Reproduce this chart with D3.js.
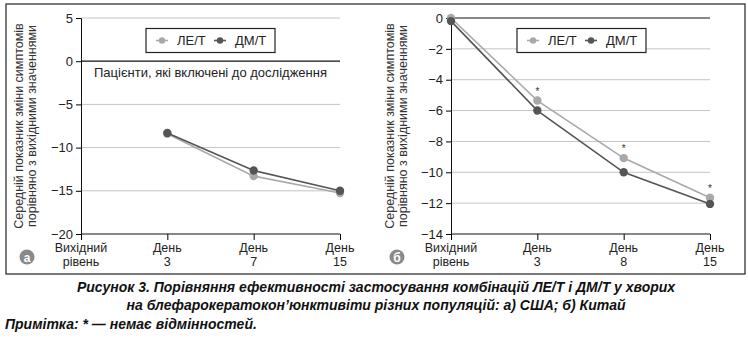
<!DOCTYPE html>
<html><head><meta charset="utf-8">
<script src="https://cdn.jsdelivr.net/npm/d3@7"></script>
<style>
body{margin:0;background:#fff;}
svg{display:block;font-family:"Liberation Sans",Arial,sans-serif;}
.cap{font-family:"Liberation Sans Narrow","Liberation Sans",Arial,sans-serif;font-weight:bold;font-style:italic;font-size:14px;}
</style></head>
<body>
<svg id="c" width="748" height="338"></svg>
<script>
const categoriesA = ["Вихідний|рівень","День|3","День|7","День|15"];
const categoriesB = ["Вихідний|рівень","День|3","День|8","День|15"];
const seriesNames = ["ЛЕ/Т","ДМ/Т"];
// Panel a (USA): no baseline value
const leA = [null,-8.4,-13.3,-15.25];
const dmA = [null,-8.3,-12.65,-15.0];
// Panel b (China)
const leB = [0,-5.35,-9.08,-11.65];
const dmB = [-0.2,-6.0,-10.0,-12.05];
const starsB = [false,true,true,true];
const ticksA = [5,0,-5,-10,-15,-20];
const ticksB = [0,-2,-4,-6,-8,-10,-12,-14];
const yLabel = ["Середній показник зміни симптомів","порівняно з вихідними значеннями"];

const colors = {"ЛЕ/Т":"#a9a9a9","ДМ/Т":"#555555"};
const svg = d3.select("#c");
svg.append("rect").attr("x",6).attr("y",4).attr("width",739).attr("height",270)
  .attr("fill","none").attr("stroke","#222").attr("stroke-width",1.2);

function panel(o){
  const g = svg.append("g");
  const x = d3.scalePoint().domain(o.cats).range([o.x0,o.x1]);
  const y = d3.scaleLinear().domain([o.ticks[o.ticks.length-1],o.ticks[0]]).range([234,18]);
  // grid
  g.selectAll(".grid").data(o.ticks.filter(t=>t!==0 && t!==o.ticks[o.ticks.length-1])).join("line")
    .attr("x1",o.x0).attr("x2",o.x1).attr("y1",d=>y(d)).attr("y2",d=>y(d))
    .attr("stroke","#c4c4c4").attr("stroke-width",1);
  g.append("line").attr("x1",o.x0).attr("x2",o.x1).attr("y1",y(0)).attr("y2",y(0))
    .attr("stroke","#111").attr("stroke-width",1.2);
  // y axis
  const ya = g.append("g").attr("transform",`translate(${o.x0},0)`)
    .call(d3.axisLeft(y).tickValues(o.ticks).tickSize(5).tickPadding(3).tickFormat(d=>d<0?"\u2212"+Math.abs(d):d));
  ya.select(".domain").attr("stroke","#111");
  ya.selectAll("text").attr("font-size",13).attr("fill","#222").attr("font-family","Liberation Sans, Arial, sans-serif");
  // x axis
  const xa = g.append("g").attr("transform","translate(0,234)")
    .call(d3.axisBottom(x).tickSize(6).tickFormat(""));
  xa.selectAll("text").remove();
  xa.select(".domain").attr("stroke","#111").attr("d",`M${o.x0},0H${o.x1}`);
  o.cats.forEach(c=>{
    c.split("|").forEach((p,i)=>g.append("text").attr("x",x(c)).attr("y",251.5+i*14)
      .attr("text-anchor","middle").attr("font-size",12.5).attr("fill","#222").text(p));
  });
  // y label
  yLabel.forEach((p,i)=>g.append("text").attr("transform",`translate(${o.lx+i*12.5},126) rotate(-90)`)
    .attr("text-anchor","middle").attr("font-size",12.5).attr("fill","#333").text(p));
  // badge
  g.append("circle").attr("cx",o.bx).attr("cy",257).attr("r",7.5).attr("fill","#8a8a8a");
  g.append("text").attr("x",o.bx).attr("y",261.5).attr("text-anchor","middle").attr("font-size",12)
    .attr("font-weight","bold").attr("fill","#fff").text(o.badge);
  // series
  const line=d3.line().defined(d=>d.v!==null).x(d=>x(d.c)).y(d=>y(d.v));
  [[seriesNames[0],o.le],[seriesNames[1],o.dm]].forEach(([n,vals])=>{
    const data=vals.map((v,i)=>({c:o.cats[i],v}));
    g.append("path").datum(data).attr("d",line).attr("fill","none").attr("stroke",colors[n]).attr("stroke-width",1.6);
    g.selectAll(null).data(data.filter(d=>d.v!==null)).join("circle")
      .attr("cx",d=>x(d.c)).attr("cy",d=>y(d.v)).attr("r",4.2).attr("fill",colors[n]);
  });
  if(o.stars){
    o.le.forEach((v,i)=>{ if(o.stars[i]) g.append("text").attr("x",x(o.cats[i])).attr("y",y(v)-6)
      .attr("text-anchor","middle").attr("font-size",10).attr("fill","#333").text("*"); });
  }
  // legend
  const lg=g.append("g");
  lg.append("rect").attr("x",o.lgx).attr("y",28.5).attr("width",129).attr("height",24)
    .attr("fill","#fff").attr("stroke","#222").attr("stroke-width",1.2);
  seriesNames.forEach((n,i)=>{
    const bx=o.lgx+10+i*58;
    lg.append("line").attr("x1",bx).attr("x2",bx+12).attr("y1",40.5).attr("y2",40.5).attr("stroke",colors[n]).attr("stroke-width",1.6);
    lg.append("circle").attr("cx",bx+6).attr("cy",40.5).attr("r",3.2).attr("fill",colors[n]);
    lg.append("text").attr("x",bx+21).attr("y",45).attr("font-size",13).attr("fill","#222").text(n);
  });
  if(o.note) g.append("text").attr("x",(o.x0+o.x1)/2-0).attr("y",77).attr("text-anchor","middle")
    .attr("font-size",13).attr("fill","#222").text(o.note);
}
panel({cats:categoriesA,x0:81,x1:340,ticks:ticksA,le:leA,dm:dmA,lx:23,bx:27,badge:"а",lgx:146,
  note:"Пацієнти, які включені до дослідження"});
panel({cats:categoriesB,x0:451,x1:710,ticks:ticksB,le:leB,dm:dmB,lx:394,bx:397,badge:"б",lgx:517,stars:starsB});

const cap=svg.append("g").attr("class","cap").attr("fill","#111");
cap.append("text").attr("x",376).attr("y",292).attr("text-anchor","middle")
  .text("Рисунок 3.  Порівняння ефективності застосування комбінацій ЛЕ/Т і ДМ/Т у хворих");
cap.append("text").attr("x",376).attr("y",310).attr("text-anchor","middle")
  .text("на блефарокератокон’юнктивіти різних популяцій: а) США; б) Китай");
cap.append("text").attr("x",5).attr("y",329).text("Примітка: * — немає відмінностей.");
</script>
</body></html>
